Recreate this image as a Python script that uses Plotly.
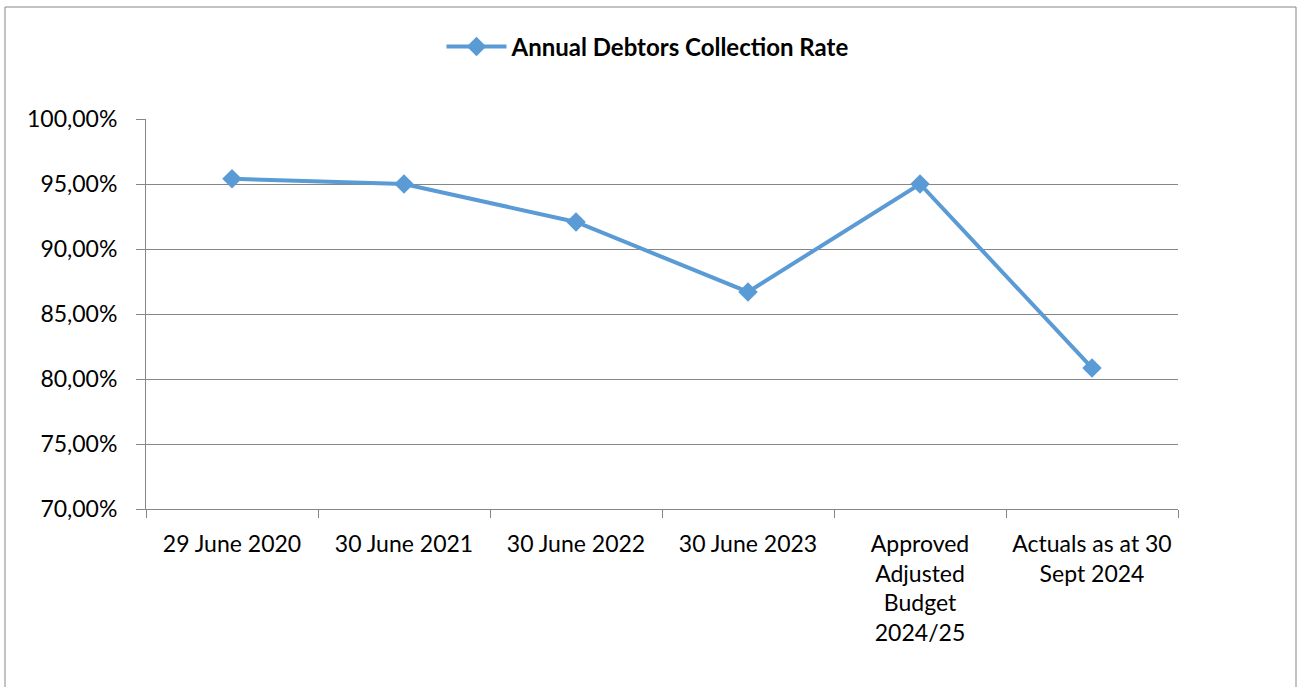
import plotly.graph_objects as go

categories = ["29 June 2020", "30 June 2021", "30 June 2022", "30 June 2023",
              "Approved<br>Adjusted<br>Budget<br>2024/25", "Actuals as at 30<br>Sept 2024"]
collection_rate = [0.9540, 0.9500, 0.9208, 0.8670, 0.9500, 0.8085]
series_name = "Annual Debtors Collection Rate"
y_ticks = [0.70, 0.75, 0.80, 0.85, 0.90, 0.95, 1.00]

W, H = 1299, 687
L, R, T, B = 146, 1178, 119, 509
pw, ph = R - L, B - T

fig = go.Figure()
fig.add_trace(go.Scatter(
    x=categories, y=collection_rate, name=series_name, mode="lines+markers",
    line=dict(color="#5B9BD5", width=4),
    marker=dict(symbol="diamond", size=15, color="#5B9BD5"),
    showlegend=True,
))

font = "Lato, 'Open Sans', sans-serif"
fig.update_layout(
    width=W, height=H,
    margin=dict(l=L, r=W - R, t=T, b=H - B, pad=0),
    paper_bgcolor="white", plot_bgcolor="white",
    separators=", ",
    font=dict(family=font, size=22, color="black"),
    showlegend=True,
    legend=dict(orientation="h", x=(648 - L) / pw, y=(B - 47) / ph,
                xanchor="center", yanchor="middle",
                font=dict(size=24, family=font, weight="bold"),
                itemwidth=60),
    xaxis=dict(type="category", showgrid=False, showline=True, linecolor="#868686",
               linewidth=1, ticks="outside", ticklen=8, tickcolor="#868686",
               tickson="boundaries", range=[-0.5, 5.5], tickangle=0,
               ticklabelstandoff=14,
               tickfont=dict(size=23, family=font)),
    yaxis=dict(range=[0.70, 1.00], tickvals=y_ticks, tickformat=".2%",
               showgrid=True, gridcolor="#868686", gridwidth=1,
               showline=True, linecolor="#868686", linewidth=1,
               ticks="outside", ticklen=9, tickcolor="#868686",
               ticklabelstandoff=14, zeroline=False,
               tickfont=dict(size=23, family=font)),
    shapes=[dict(type="rect", xref="paper", yref="paper",
                 x0=(5 - L) / pw, x1=(1296 - L) / pw,
                 y0=(B - 690) / ph, y1=(B - 7) / ph,
                 line=dict(color="#868686", width=1), fillcolor="rgba(0,0,0,0)",
                 layer="below")],
)

fig.write_html("out.html")
